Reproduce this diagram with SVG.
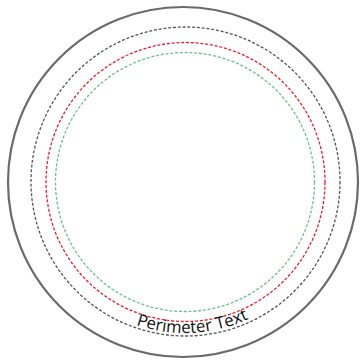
<svg xmlns="http://www.w3.org/2000/svg" width="360" height="363" viewBox="0 0 360 363">
<style>
.outer{fill:none;stroke:#6a6a6a;stroke-width:2.2}
.d{fill:none;stroke-width:1.3;stroke-dasharray:3 1.8}
.blk{stroke:#555}
.red{stroke:#ee1c25}
.grn{stroke:#6cc08c}
.lbl{font-family:"Open Sans","Noto Sans",sans-serif;font-size:16.8px;fill:#111}
</style>
<defs>
<path id="arc" d="M 34 182 A 151 151 0 0 0 336 182"/>
</defs>
<rect width="360" height="363" fill="#fff"/>
<g id="outer-circle"><circle class="outer" cx="183" cy="182" r="175"/></g>
<g id="bleed"><circle class="d blk" cx="185.5" cy="181.5" r="154.5"/></g>
<g id="trim"><circle class="d red" cx="185.5" cy="182" r="139.5"/></g>
<g id="safe"><circle class="d grn" cx="185" cy="182" r="129.5"/></g>
<g id="perimeter-text"><text class="lbl" text-anchor="middle"><textPath href="#arc" startOffset="245">Perimeter Text</textPath></text></g>
</svg>
